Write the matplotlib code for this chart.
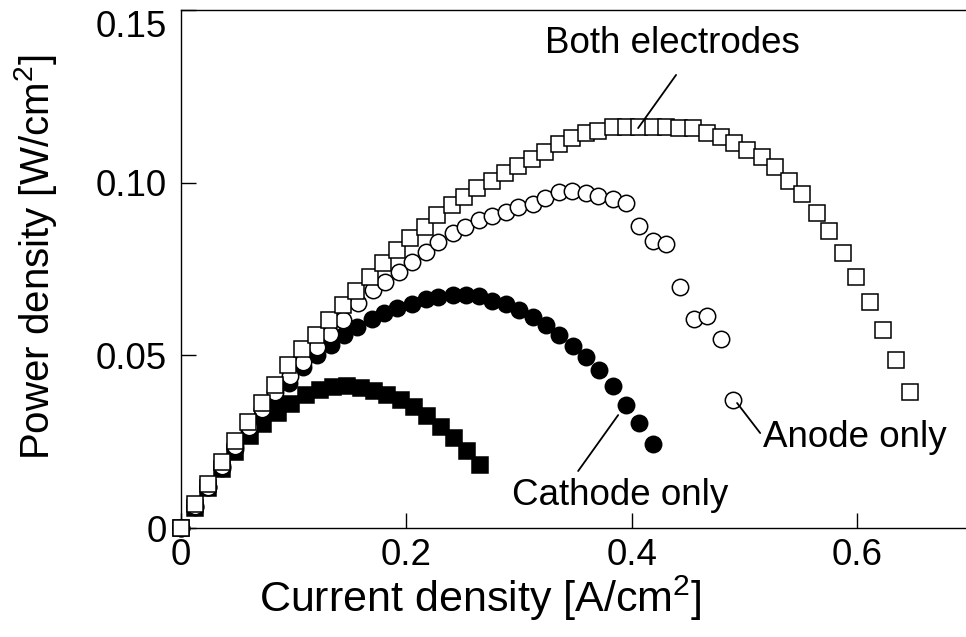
import matplotlib
matplotlib.use('Agg')
import matplotlib.pyplot as plt

plt.rcParams['font.family'] = ['Liberation Sans', 'DejaVu Sans']
plt.rcParams['mathtext.fontset'] = 'custom'
plt.rcParams['mathtext.rm'] = 'Liberation Sans'
plt.rcParams['mathtext.it'] = 'Liberation Sans'

# Both electrodes (open squares)
x_both = [0, 0.012, 0.024, 0.036, 0.048, 0.059, 0.072, 0.083, 0.095, 0.107,
          0.120, 0.131, 0.144, 0.155, 0.168, 0.179, 0.192, 0.203, 0.216, 0.227,
          0.240, 0.251, 0.263, 0.276, 0.287, 0.299, 0.311, 0.323, 0.335, 0.347,
          0.359, 0.370, 0.383, 0.395, 0.406, 0.419, 0.430, 0.442, 0.454, 0.467,
          0.479, 0.491, 0.502, 0.515, 0.527, 0.539, 0.551, 0.564, 0.575, 0.587,
          0.599, 0.611, 0.623, 0.634, 0.647]
p_both = [0, 0.0070, 0.0127, 0.0191, 0.0252, 0.0307, 0.0362, 0.0414, 0.0472, 0.0518,
          0.0559, 0.0602, 0.0646, 0.0686, 0.0727, 0.0767, 0.0805, 0.0840, 0.0872, 0.0906,
          0.0935, 0.0959, 0.0985, 0.1005, 0.1028, 0.1048, 0.1069, 0.1089, 0.1112, 0.1129,
          0.1144, 0.1150, 0.1161, 0.1161, 0.1161, 0.1161, 0.1161, 0.1158, 0.1158, 0.1144,
          0.1132, 0.1115, 0.1095, 0.1074, 0.1045, 0.1005, 0.0967, 0.0912, 0.0860, 0.0796,
          0.0727, 0.0654, 0.0573, 0.0487, 0.0394]

# Anode only (open circles)
x_anode = [0, 0.012, 0.024, 0.036, 0.048, 0.060, 0.072, 0.083, 0.097, 0.108,
           0.121, 0.132, 0.144, 0.157, 0.170, 0.181, 0.193, 0.205, 0.217, 0.228,
           0.241, 0.252, 0.264, 0.276, 0.288, 0.299, 0.312, 0.323, 0.335, 0.347,
           0.359, 0.370, 0.383, 0.395, 0.406, 0.419, 0.430, 0.443, 0.455, 0.467,
           0.479, 0.490]
p_anode = [0, 0.0065, 0.0120, 0.0180, 0.0238, 0.0292, 0.0345, 0.0394, 0.0440, 0.0480,
           0.0524, 0.0562, 0.0602, 0.0652, 0.0689, 0.0712, 0.0741, 0.0770, 0.0799, 0.0828,
           0.0854, 0.0872, 0.0892, 0.0904, 0.0915, 0.0930, 0.0938, 0.0956, 0.0973, 0.0976,
           0.0970, 0.0961, 0.0953, 0.0941, 0.0875, 0.0831, 0.0822, 0.0698, 0.0605, 0.0614,
           0.0547, 0.0371]

# Cathode only (filled circles)
x_cath = [0, 0.012, 0.024, 0.036, 0.048, 0.060, 0.072, 0.084, 0.096, 0.108,
          0.121, 0.133, 0.145, 0.156, 0.169, 0.180, 0.192, 0.205, 0.217, 0.228,
          0.241, 0.253, 0.264, 0.276, 0.288, 0.300, 0.312, 0.324, 0.335, 0.348,
          0.359, 0.371, 0.383, 0.395, 0.406, 0.419]
p_cath = [0, 0.0062, 0.0118, 0.0175, 0.0228, 0.0280, 0.0328, 0.0372, 0.0420, 0.0466,
          0.0501, 0.0530, 0.0559, 0.0582, 0.0605, 0.0623, 0.0637, 0.0649, 0.0663, 0.0669,
          0.0675, 0.0675, 0.0672, 0.0657, 0.0649, 0.0631, 0.0611, 0.0588, 0.0559, 0.0527,
          0.0495, 0.0458, 0.0411, 0.0356, 0.0304, 0.0243]

# unlabelled series (filled squares)
x_fsq = [0, 0.012, 0.024, 0.036, 0.048, 0.061, 0.073, 0.086, 0.098, 0.111,
         0.123, 0.135, 0.147, 0.160, 0.171, 0.183, 0.195, 0.207, 0.218, 0.231,
         0.242, 0.254, 0.265]
p_fsq = [0, 0.0058, 0.0116, 0.0172, 0.0220, 0.0265, 0.0302, 0.0333, 0.0360, 0.0385,
         0.0400, 0.0408, 0.0410, 0.0405, 0.0396, 0.0385, 0.0370, 0.0350, 0.0324, 0.0292,
         0.0262, 0.0222, 0.0182]

fs = 26.5      # ticks and annotations
ms = 11.8
mew = 1.1

fig = plt.figure(figsize=(9.66, 6.37), dpi=100)
ax = fig.add_axes([0.1874, 0.1711, 0.8168, 0.8132])

ax.plot(x_fsq, p_fsq, 's', color='k', ms=ms, mew=mew, ls='none', zorder=2, clip_on=False)
ax.plot(x_cath, p_cath, 'o', color='k', ms=ms, mew=mew, ls='none', zorder=3, clip_on=False)
ax.plot(x_anode, p_anode, 'o', mfc='white', mec='k', ms=ms, mew=mew, ls='none', zorder=4, clip_on=False)
ax.plot(x_both, p_both, 's', mfc='white', mec='k', ms=ms, mew=mew, ls='none', zorder=5, clip_on=False)

# leader lines and labels
line_kw = dict(arrowprops=dict(arrowstyle='-', lw=1.3, color='k', shrinkA=0, shrinkB=0))
ax.annotate('', xy=(0.4055, 0.1158), xytext=(0.4392, 0.1312), zorder=6, **line_kw)
ax.annotate('', xy=(0.4933, 0.0362), xytext=(0.5138, 0.0275), zorder=6, **line_kw)
ax.annotate('', xy=(0.3878, 0.0327), xytext=(0.3523, 0.0165), zorder=6, **line_kw)
ax.text(0.323, 0.1376, 'Both electrodes', fontsize=fs, va='baseline', ha='left')
ax.text(0.5164, 0.0235, 'Anode only', fontsize=fs, va='baseline', ha='left')
ax.text(0.2937, 0.0067, 'Cathode only', fontsize=fs, va='baseline', ha='left')

ax.set_xlim(0, 0.7)
ax.set_ylim(0, 0.15)
ax.set_xticks([0, 0.2, 0.4, 0.6])
ax.set_xticklabels(['0', '0.2', '0.4', '0.6'])
ax.set_yticks([0, 0.05, 0.10, 0.15])
ax.set_yticklabels(['0', '0.05', '0.10', '0.15'])
ax.tick_params(direction='in', length=11, width=1.0, labelsize=fs)
ax.tick_params(axis='y', pad=10)
ax.tick_params(axis='x', pad=7)
ax.get_yticklabels()[-1].set_verticalalignment('top')
for s in ax.spines.values():
    s.set_linewidth(1.0)

ax.set_xlabel('Current density [A/cm$^2$]', fontsize=31, va='center', ha='center')
ax.set_ylabel('Power density [W/cm$^2$]', fontsize=29, va='center', ha='center')
ax.xaxis.set_label_coords(0.379, -0.135)
ax.yaxis.set_label_coords(-0.185, 0.523)

fig.savefig('out.png', dpi=100)
